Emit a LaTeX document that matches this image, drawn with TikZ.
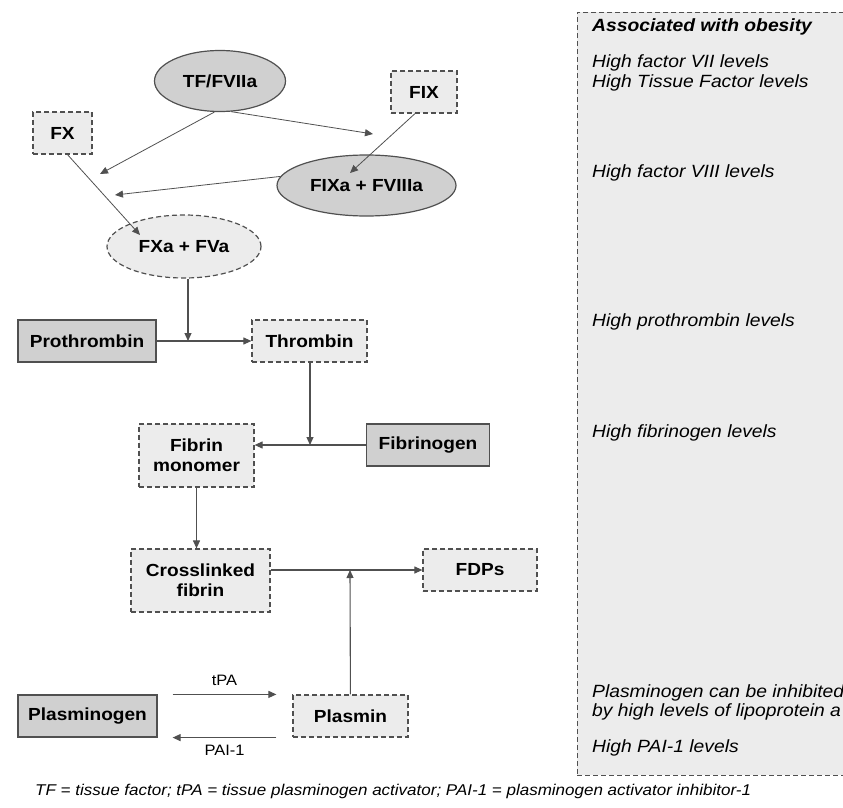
\documentclass[tikz,border=0pt]{standalone}
\usepackage{fontspec}
\setmainfont{Liberation Sans}[FakeStretch=1.09]
\usetikzlibrary{arrows.meta,shapes.geometric}
\definecolor{solidfill}{HTML}{D0D0D0}
\definecolor{dashfill}{HTML}{ECECEC}
\definecolor{edgegray}{HTML}{505050}
\begin{document}
\begin{tikzpicture}[x=1pt,y=-1pt,
  factor/.style={draw=edgegray, line width=1.2pt, fill=solidfill, inner sep=0pt, minimum height=42, align=center, font=\fontsize{17.5}{20}\selectfont\bfseries},
  product/.style={factor, fill=dashfill, dash pattern=on 5pt off 3pt},
  oval/.style={ellipse, minimum height=61},
  link/.style={draw=edgegray, line width=1.1pt, -{Triangle[length=8pt,width=7pt]}},
  thin link/.style={link, line width=0.8pt},
  note/.style={anchor=west, inner sep=0pt, align=left, font=\fontsize{17.7}{20}\selectfont\itshape},
  small/.style={inner sep=0pt, font=\fontsize{15.1}{18}\selectfont}]
\useasboundingbox (0,0) rectangle (843,808);
\clip (0,0) rectangle (843,808);
\node[draw=edgegray, line width=0.9pt, fill=dashfill, dash pattern=on 5pt off 3pt, anchor=north west, minimum width=320, minimum height=763, inner sep=0pt] (obesity) at (577,12) {};
\node[note, font=\fontsize{17.7}{20}\selectfont\bfseries\itshape] (assoc) at (592,27) {Associated with obesity};
\node[note] (n7) at (592,63) {High factor VII levels};
\node[note] (ntf) at (592,83) {High Tissue Factor levels};
\node[note] (n8) at (592,173) {High factor VIII levels};
\node[note] (nproth) at (592,322) {High prothrombin levels};
\node[note] (nfib) at (592,433) {High fibrinogen levels};
\node[note] (nplg1) at (592,693) {Plasminogen can be inhibited};
\node[note] (nplg2) at (592,712) {by high levels of lipoprotein a};
\node[note] (npai) at (592,748) {High PAI-1 levels};
\node[factor, oval, minimum width=131] (tf) at (220,81) {TF/FVIIa};
\node[product, minimum width=66] (fix) at (424,92) {FIX};
\node[product, minimum width=59] (fx) at (62.5,133) {FX};
\node[factor, oval, minimum width=179] (fixa) at (366.5,185.5) {FIXa + FVIIIa};
\node[product, oval, minimum width=154, minimum height=63] (fxa) at (184,246.5) {FXa + FVa};
\node[factor, minimum width=138] (proth) at (87,341) {Prothrombin};
\node[product, minimum width=115] (thromb) at (309.5,341) {Thrombin};
\node[factor, minimum width=123] (fibgen) at (428,445) {Fibrinogen};
\node[product, minimum width=115, minimum height=63] (monomer) at (196.5,455.5) {Fibrin\\monomer};
\node[product, minimum width=139, minimum height=63] (xlinked) at (200.5,580.5) {Crosslinked\\fibrin};
\node[product, minimum width=114] (fdps) at (480,570) {FDPs};
\node[factor, minimum width=139] (plasminogen) at (87.5,716) {Plasminogen};
\node[product, minimum width=115] (plasmin) at (350.5,716) {Plasmin};
\coordinate (tfx) at (100,174);
\coordinate (tfix) at (373,134);
\coordinate (ixend) at (350,173);
\coordinate (viiix) at (115,195);
\coordinate (xend) at (140,235);
\coordinate (pt) at (188,341);
\coordinate (tm) at (310,445);
\coordinate (pl) at (350,570);
\draw[thin link] (tf.260) -- (tfx);
\draw[thin link] (tf.290) -- (tfix);
\draw[thin link] ([xshift=-9pt]fix.south) -- (ixend);
\draw[thin link] (fixa.174) -- (viiix);
\draw[thin link] ([xshift=5pt]fx.south) -- (xend);
\draw[link] (fxa.south -| pt) -- (pt);
\draw[link] (proth) -- (thromb);
\draw[link] (thromb.south -| tm) -- (tm);
\draw[link] (fibgen) -- (monomer.east |- fibgen);
\draw[link] (monomer) -- (xlinked.north -| monomer);
\draw[link] (xlinked.east |- fdps) -- (fdps);
\draw[link] (plasmin) -- (pl);
\draw[link] ([xshift=15pt]plasminogen.north east) -- node[small, above=8pt] (tpa) {tPA} ([xshift=-16pt]plasmin.north west);
\draw[link] ([xshift=-16pt]plasmin.south west) -- node[small, below=7pt] (pai) {PAI-1} ([xshift=15pt]plasminogen.south east);
\node[small, anchor=west, font=\fontsize{15.6}{18}\selectfont\itshape] (caption) at (35,791) {TF = tissue factor; tPA = tissue plasminogen activator; PAI-1 = plasminogen activator inhibitor-1};
\end{tikzpicture}
\end{document}
